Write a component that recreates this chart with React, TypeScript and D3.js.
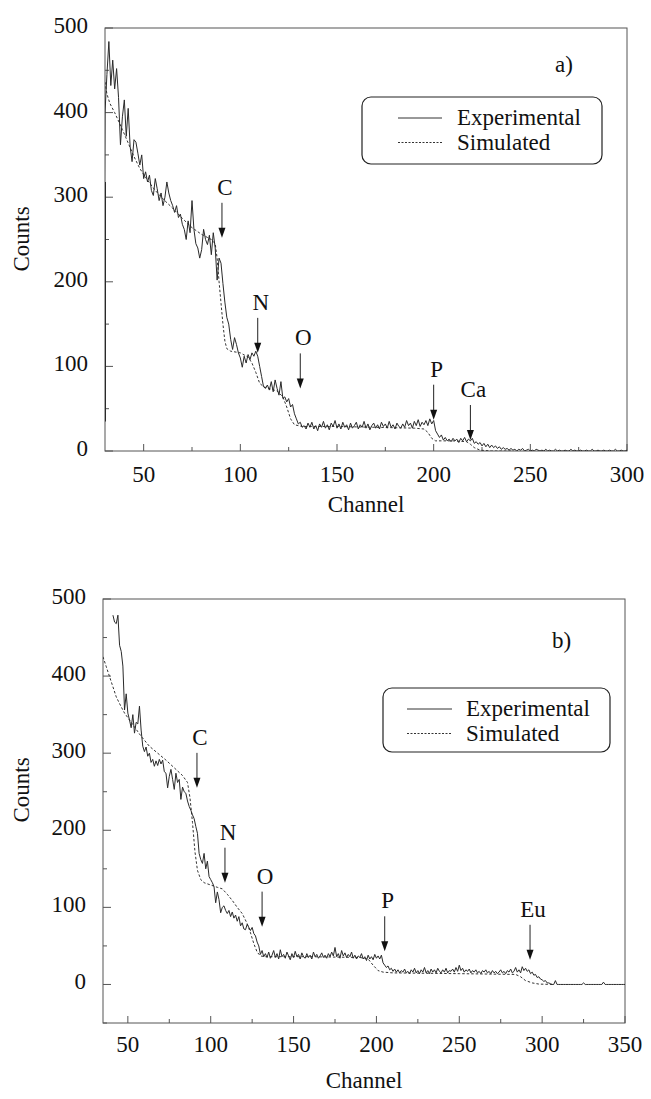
import * as d3 from 'd3'

const FONT = "'Liberation Serif', 'DejaVu Serif', serif"

// ---- panel a) ----
const expAStart = 29
const expACounts = [
  35, 400, 445, 484, 432, 462, 428, 452, 418, 362,
  395, 415, 372, 405, 360, 342, 368, 365, 352, 338,
  350, 322, 330, 318, 326, 308, 302, 322, 310, 296,
  305, 290, 300, 318, 305, 296, 290, 282, 290, 276,
  280, 268, 262, 250, 272, 258, 296, 262, 245, 240,
  228, 238, 262, 250, 244, 255, 232, 258, 240, 202,
  228, 222, 198, 176, 158, 150, 132, 120, 134, 126,
  116, 110, 99, 112, 104, 114, 108, 116, 112, 118,
  112, 100, 88, 76, 74, 78, 72, 82, 70, 84,
  74, 66, 82, 62, 64, 58, 62, 52, 55, 44,
  38, 32, 34, 28, 30, 26, 33, 28, 34, 26,
  30, 24, 32, 28, 35, 27, 31, 25, 33, 29,
  36, 27, 32, 26, 34, 28, 31, 25, 33, 27,
  30, 34, 26, 31, 28, 35, 27, 32, 25, 30,
  33, 27, 31, 26, 34, 29, 32, 27, 35, 28,
  31, 26, 33, 29, 27, 32, 28, 36, 30, 33,
  27, 35, 30, 37, 29, 34, 31, 36, 30, 38,
  32, 36, 24, 20, 16, 19, 13, 16, 12, 14,
  11, 15, 12, 14, 10, 15, 12, 16, 11, 14,
  12, 15, 9, 11, 8, 10, 6, 9, 5, 8,
  4, 7, 4, 6, 3, 5, 2, 4, 2, 3,
  1, 3, 1, 2, 0, 2, 1, 3, 0, 1,
  2, 0, 1, 0, 2, 1, 0, 1, 0, 2,
  0, 1, 0, 0, 2, 0, 1, 0, 0, 1,
  0, 0, 2, 0, 1, 0, 0, 1, 0, 0,
  1, 0, 0, 2, 0, 0, 1, 0, 0, 1,
  0, 0, 1, 0, 0, 2, 0, 0, 1, 0,
  0, 1,
]
const expAEdge = [35, 318] // rise drawn on channel 30
const simA: [number, number][] = [
  [29, 441], [30, 436], [31, 422], [32.5, 411], [35, 400], [39, 380], [42, 364], [45, 348],
  [48, 334], [52, 320], [56, 308], [60, 298], [65, 287], [70, 275], [75, 264], [80, 256],
  [85, 250], [87, 245], [88, 228], [89, 200], [90, 175], [91, 150], [92, 130], [93, 121],
  [95, 118], [100, 116], [104, 111], [106, 104], [108, 93], [110, 80], [112, 76], [116, 73],
  [119, 71], [122, 64], [124, 52], [126, 38], [128, 31], [132, 29], [150, 29], [170, 28],
  [190, 27], [195, 26], [197, 22], [199, 15], [201, 12], [210, 12], [217, 11], [219, 8],
  [221, 4], [224, 1], [230, 0], [240, 0],
]
const arrowsA = [
  { label: 'C', channel: 90.5, count: 252 },
  { label: 'N', channel: 109, count: 116 },
  { label: 'O', channel: 131, count: 74 },
  { label: 'P', channel: 200, count: 37 },
  { label: 'Ca', channel: 219, count: 13 },
]
const xTicksA = [50, 100, 150, 200, 250, 300]
const xMinorA = [75, 125, 175, 225, 275]
const yTicksA = [0, 100, 200, 300, 400, 500]
const yMinorA = [50, 150, 250, 350, 450]

// ---- panel b) ----
const expBStart = 41
const expBCounts = [
  479, 470, 468, 479, 440, 432, 413, 356, 377, 352,
  343, 333, 350, 326, 340, 338, 361, 330, 309, 302,
  308, 296, 300, 288, 292, 283, 290, 284, 292, 286,
  291, 276, 274, 255, 270, 279, 266, 253, 274, 262,
  266, 240, 256, 250, 248, 238, 231, 226, 220, 215,
  205, 196, 170, 162, 157, 170, 150, 160, 140, 136,
  132, 127, 106, 120, 110, 93, 100, 102, 96, 92,
  96, 88, 94, 86, 90, 82, 88, 76, 80, 72,
  71, 78, 74, 70, 74, 66, 63, 55, 50, 39,
  44, 36, 40, 35, 42, 34, 38, 44, 35, 40,
  33, 45, 36, 39, 34, 42, 37, 32, 40, 35,
  43, 36, 39, 33, 41, 36, 34, 40, 35, 38,
  33, 42, 36, 39, 34, 37, 41, 35, 38, 34,
  40, 36, 42, 37, 48, 36, 40, 34, 44, 37,
  41, 35, 39, 36, 42, 34, 38, 33, 37, 35,
  40, 33, 36, 31, 38, 33, 36, 32, 39, 34,
  37, 33, 38, 28, 25, 22, 24, 19, 21, 17,
  20, 16, 19, 15, 18, 16, 20, 15, 17, 14,
  19, 16, 21, 15, 18, 14, 19, 16, 22, 15,
  18, 14, 20, 16, 19, 15, 21, 17, 15, 19,
  16, 21, 15, 18, 17, 20, 16, 22, 17, 25,
  18, 21, 16, 19, 17, 20, 15, 18, 16, 19,
  15, 17, 14, 18, 16, 19, 15, 17, 14, 18,
  15, 17, 14, 16, 19, 15, 17, 14, 18, 16,
  20, 15, 17, 22, 16, 19, 15, 23, 18, 21,
  17, 19, 14, 16, 12, 13, 9, 10, 7, 6,
  4, 5, 2, 2, 1, 0, 0, 5, 0, 0,
  0, 0, 0, 0, 0, 0, 0, 0, 0, 0,
  0, 0, 0, 0, 2, 0, 0, 0, 0, 0,
  0, 0, 0, 0, 0, 0, 3, 0, 0, 0,
  0, 0, 0, 0, 0, 0, 0, 0, 0, 0,
]
const simB: [number, number][] = [
  [35, 425], [37, 412], [39, 399], [41, 386], [43, 373], [46, 360], [48, 352], [53, 337],
  [58, 322], [63, 309], [68, 300], [73, 291], [78, 281], [83, 271], [86, 262], [87.5, 242],
  [89, 210], [90.5, 172], [92, 148], [94, 136], [96, 132], [100, 129], [104, 126], [107, 124],
  [110, 117], [113, 109], [116, 100], [119, 92], [122, 79], [124, 67], [126, 53], [128, 42],
  [130, 37], [133, 36], [160, 36], [190, 35], [195, 33], [198, 25], [201, 18], [204, 16],
  [210, 15], [250, 14], [284, 13], [287, 10], [290, 5], [294, 2], [298, 0.5], [306, 0],
]
const arrowsB = [
  { label: 'C', channel: 91.7, count: 255 },
  { label: 'N', channel: 108.6, count: 132 },
  { label: 'O', channel: 131, count: 75 },
  { label: 'P', channel: 205, count: 43 },
  { label: 'Eu', channel: 292.7, count: 32 },
]
const xTicksB = [50, 100, 150, 200, 250, 300, 350]
const xMinorB = [75, 125, 175, 225, 275, 325]
const yTicksB = [0, 100, 200, 300, 400, 500]
const yMinorB = [-50, 50, 150, 250, 350, 450]

const seriesNames = ['Experimental', 'Simulated']

function Panel(p: any) {
  const { id, frame } = p
  const x = d3.scaleLinear().domain(p.xDomain).range([frame.left, frame.right])
  const y = d3.scaleLinear().domain(p.yDomain).range([frame.bottom, frame.top])
  const line = d3.line<[number, number]>().x(d => x(d[0])).y(d => y(d[1]))
  const expPts: [number, number][] = p.exp.map((c: number, i: number) => [p.expStart + i, c])
  const edgePts: [number, number][] | null = p.edge ? p.edge.map((c: number) => [p.xDomain[0], c]) : null
  const lg = p.legend
  const arrowLen = 35

  return (
    <g style={{ fontFamily: FONT }} fill="#111">
      <defs>
        <clipPath id={`clip-${id}`}>
          <rect x={frame.left} y={frame.top - 2} width={frame.right - frame.left} height={frame.bottom - frame.top + 2} />
        </clipPath>
      </defs>

      {/* frame */}
      <rect x={frame.left} y={frame.top} width={frame.right - frame.left} height={frame.bottom - frame.top}
        fill="none" stroke="#555" strokeWidth={1} />

      {/* inward ticks */}
      {p.yTicks.map((t: number) => (
        <g key={'y' + t}>
          <line x1={frame.left} x2={frame.left + 8} y1={y(t)} y2={y(t)} stroke="#555" />
          <text x={frame.left - 17} y={y(t) + 5} fontSize={23} textAnchor="end">{t}</text>
        </g>
      ))}
      {p.yMinor.map((t: number) => (
        <line key={'ym' + t} x1={frame.left} x2={frame.left + 4} y1={y(t)} y2={y(t)} stroke="#555" />
      ))}
      {p.xTicks.map((t: number) => (
        <g key={'x' + t}>
          <line x1={x(t)} x2={x(t)} y1={frame.bottom} y2={frame.bottom - 7} stroke="#555" />
          <text x={x(t)} y={frame.bottom + p.xTickDy} fontSize={23} textAnchor="middle">{t}</text>
        </g>
      ))}
      {p.xMinor.map((t: number) => (
        <line key={'xm' + t} x1={x(t)} x2={x(t)} y1={frame.bottom} y2={frame.bottom - 4} stroke="#555" />
      ))}

      {/* axis titles */}
      <text x={(frame.left + frame.right) / 2} y={p.xLabelY} fontSize={23} textAnchor="middle">Channel</text>
      <text transform={`translate(29,${p.yLabelY}) rotate(-90)`} fontSize={23} textAnchor="middle">Counts</text>

      {/* data */}
      <g clipPath={`url(#clip-${id})`} fill="none">
        <path d={line(p.sim) || ''} stroke="#333" strokeWidth={1} strokeDasharray="2.5 2" />
        <path d={line(expPts) || ''} stroke="#2a2a2a" strokeWidth={1} strokeLinejoin="round" />
        {edgePts && <path d={line(edgePts) || ''} stroke="#2a2a2a" strokeWidth={2} />}
      </g>

      {/* element arrows */}
      {p.arrows.map((a: any) => {
        const ax = x(a.channel)
        const ty = y(a.count)
        const sy = ty - arrowLen
        return (
          <g key={a.label}>
            <line x1={ax} x2={ax} y1={sy} y2={ty - 8} stroke="#222" strokeWidth={1} />
            <path d={`M${ax - 3.5},${ty - 10} L${ax + 3.5},${ty - 10} L${ax},${ty} Z`} fill="#111" />
            <text x={ax + 3} y={sy - 8} fontSize={23} textAnchor="middle">{a.label}</text>
          </g>
        )
      })}

      {/* panel tag */}
      <text x={p.tag.x} y={p.tag.y} fontSize={23}>{p.tag.text}</text>

      {/* legend */}
      <rect x={lg.x} y={lg.y} width={lg.w} height={lg.h} rx={9} fill="#fff" stroke="#222" strokeWidth={1.2} />
      {seriesNames.map((s, i) => (
        <g key={s}>
          <line x1={lg.sx1} x2={lg.sx2} y1={lg.y + 21 + i * 24.5} y2={lg.y + 21 + i * 24.5}
            stroke="#333" strokeWidth={1} strokeDasharray={i === 1 ? '2 1.5' : undefined} />
          <text x={lg.tx} y={lg.y + 28 + i * 24.5} fontSize={23}>{s}</text>
        </g>
      ))}
    </g>
  )
}

export default function App() {
  return (
    <svg width={651} height={1099} style={{ position: 'absolute', left: 0, top: 0, background: '#fff', fontFamily: FONT }}>
      <rect width={651} height={1099} fill="#fff" />
      <Panel
        id="a"
        frame={{ left: 105, right: 627, top: 28, bottom: 451 }}
        xDomain={[30, 300]} yDomain={[0, 500]}
        xTicks={xTicksA} xMinor={xMinorA} yTicks={yTicksA} yMinor={yMinorA}
        xTickDy={31} xLabelY={512} yLabelY={239}
        expStart={expAStart} exp={expACounts} edge={expAEdge} sim={simA}
        arrows={arrowsA}
        tag={{ text: 'a)', x: 555, y: 72 }}
        legend={{ x: 362, y: 97, w: 240, h: 67, sx1: 398, sx2: 442, tx: 457 }}
      />
      <Panel
        id="b"
        frame={{ left: 103, right: 625, top: 599, bottom: 1023 }}
        xDomain={[35, 350]} yDomain={[-50, 500]}
        xTicks={xTicksB} xMinor={xMinorB} yTicks={yTicksB} yMinor={yMinorB}
        xTickDy={29} xLabelY={1088} yLabelY={790}
        expStart={expBStart} exp={expBCounts} edge={null} sim={simB}
        arrows={arrowsB}
        tag={{ text: 'b)', x: 552, y: 648 }}
        legend={{ x: 383, y: 688, w: 227, h: 64, sx1: 407, sx2: 452, tx: 466 }}
      />
    </svg>
  )
}
